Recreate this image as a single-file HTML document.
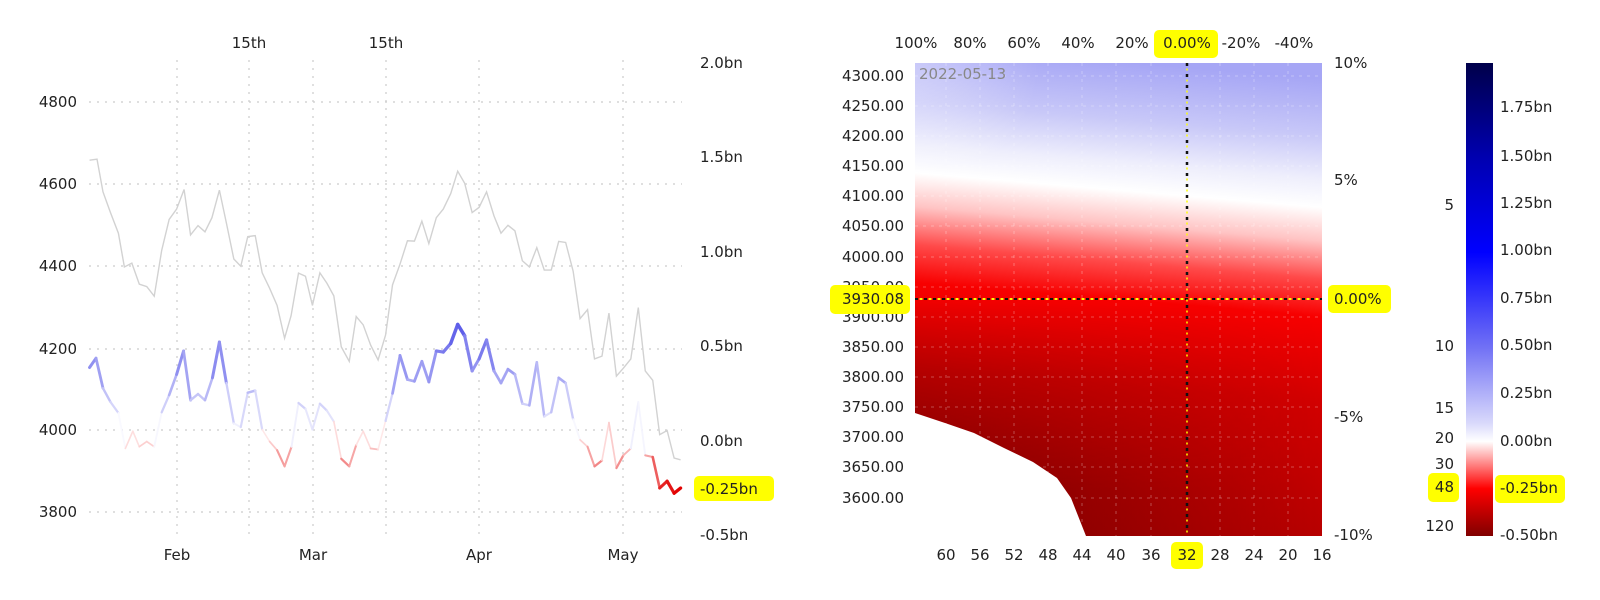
<!DOCTYPE html>
<html><head><meta charset="utf-8"><style>
html,body{margin:0;padding:0;background:#fff;}
svg{display:block;font-family:"DejaVu Sans","Liberation Sans",sans-serif;font-size:15px;}
</style></head><body>
<svg id="s" width="1600" height="600" viewBox="0 0 1600 600" xmlns="http://www.w3.org/2000/svg">
<defs>
<linearGradient id="hm" gradientUnits="userSpaceOnUse" x1="1135" y1="63" x2="1095" y2="536">
<stop offset="0" stop-color="#a6a6f5"/>
<stop offset="0.12" stop-color="#c8c8f8"/>
<stop offset="0.21" stop-color="#eeeefc"/>
<stop offset="0.27" stop-color="#ffffff"/>
<stop offset="0.34" stop-color="#ffc4c4"/>
<stop offset="0.42" stop-color="#ff4a4a"/>
<stop offset="0.5" stop-color="#f80000"/>
<stop offset="0.68" stop-color="#d20000"/>
<stop offset="1" stop-color="#b40000"/>
</linearGradient>
<radialGradient id="hmr" gradientUnits="userSpaceOnUse" cx="900" cy="60" r="140">
<stop offset="0" stop-color="#ffffff" stop-opacity="0.35"/>
<stop offset="1" stop-color="#ffffff" stop-opacity="0"/>
</radialGradient>
<linearGradient id="hm2" gradientUnits="userSpaceOnUse" x1="915" y1="0" x2="1322" y2="0">
<stop offset="0" stop-color="#500000" stop-opacity="0.6"/>
<stop offset="1" stop-color="#500000" stop-opacity="0.0"/>
</linearGradient>
<linearGradient id="hm3w" x1="0" y1="0" x2="0" y2="1">
<stop offset="0" stop-color="#000"/>
<stop offset="0.5" stop-color="#000"/>
<stop offset="0.9" stop-color="#fff"/>
<stop offset="1" stop-color="#fff"/>
</linearGradient>
<mask id="mk"><rect x="915" y="63" width="407" height="473" fill="url(#hm3w)"/></mask>
<linearGradient id="cb" x1="0" y1="0" x2="0" y2="1">
<stop offset="0" stop-color="#00004a"/>
<stop offset="0.2" stop-color="#0000b0"/>
<stop offset="0.4" stop-color="#0000ff"/>
<stop offset="0.6" stop-color="#7070f5"/>
<stop offset="0.76" stop-color="#d8d8fb"/>
<stop offset="0.8" stop-color="#ffffff"/>
<stop offset="0.9" stop-color="#ff0000"/>
<stop offset="1" stop-color="#800000"/>
</linearGradient>
</defs>

<!-- LEFT CHART -->
<g stroke="#ccc" stroke-width="1.2" stroke-dasharray="2,6">
<line x1="89" x2="682" y1="102" y2="102"/><line x1="89" x2="682" y1="184" y2="184"/>
<line x1="89" x2="682" y1="266" y2="266"/><line x1="89" x2="682" y1="349" y2="349"/>
<line x1="89" x2="682" y1="430" y2="430"/><line x1="89" x2="682" y1="512" y2="512"/>
<line x1="177" x2="177" y1="60" y2="535"/><line x1="249" x2="249" y1="60" y2="535"/>
<line x1="313" x2="313" y1="60" y2="535"/><line x1="386" x2="386" y1="60" y2="535"/>
<line x1="479" x2="479" y1="60" y2="535"/><line x1="623" x2="623" y1="60" y2="535"/>
</g>
<g text-anchor="end" fill="#222">
<text x="77" y="107">4800</text><text x="77" y="189">4600</text><text x="77" y="271">4400</text>
<text x="77" y="354">4200</text><text x="77" y="435">4000</text><text x="77" y="517">3800</text>
</g>
<g fill="#222">
<text x="700" y="68">2.0bn</text><text x="700" y="162">1.5bn</text><text x="700" y="257">1.0bn</text>
<text x="700" y="351">0.5bn</text><text x="700" y="446">0.0bn</text><text x="700" y="540">-0.5bn</text>
</g>
<rect x="694" y="476" width="80" height="25" rx="5" fill="#ffff00"/>
<text x="700" y="494" fill="#222">-0.25bn</text>
<g text-anchor="middle" fill="#222">
<text x="249" y="48">15th</text><text x="386" y="48">15th</text>
<text x="177" y="560">Feb</text><text x="313" y="560">Mar</text><text x="479" y="560">Apr</text><text x="623" y="560">May</text>
</g>
<g transform="translate(0,30) scale(0.4975,0.3444)">
<polyline fill="none" stroke="#d2d2d2" stroke-width="1.4" vector-effect="non-scaling-stroke" points="180,378 195,375 207,470 222,530 238,590 250,688 265,677 280,738 295,745 310,773 325,640 340,550 355,520 370,463 383,595 398,568 412,586 426,545 441,465 455,560 470,665 484,686 498,600 513,597 527,705 542,750 557,800 572,895 585,830 600,706 614,715 628,800 643,705 657,735 671,772 686,920 702,962 716,832 730,856 745,915 760,958 775,886 789,740 804,680 819,612 833,613 848,555 862,620 877,545 891,520 906,475 920,410 934,445 949,530 963,515 978,470 993,540 1007,590 1021,567 1035,583 1050,670 1064,688 1079,632 1094,697 1108,697 1123,614 1137,617 1152,700 1166,838 1181,812 1195,955 1210,947 1224,822 1239,1005 1253,982 1268,955 1283,806 1297,990 1312,1017 1326,1175 1341,1163 1355,1243 1368,1248"/>
<g id="col"></g>
</g>

<!-- RIGHT HEATMAP -->
<rect x="915" y="63" width="407" height="473" fill="url(#hm)"/>
<rect x="915" y="63" width="407" height="473" fill="url(#hmr)"/>
<rect x="915" y="63" width="407" height="473" fill="url(#hm2)" mask="url(#mk)"/>
<path d="M915,413 L945,423 L974,433 L1004,448 L1033,462 L1057,478 L1071,498 L1086,536 L915,536 Z" fill="#fff"/>
<g stroke="#fff" stroke-opacity="0.3" stroke-width="1" stroke-dasharray="3,5">
<line x1="915" x2="1322" y1="76" y2="76"/><line x1="915" x2="1322" y1="106" y2="106"/>
<line x1="915" x2="1322" y1="136" y2="136"/><line x1="915" x2="1322" y1="166" y2="166"/>
<line x1="915" x2="1322" y1="196" y2="196"/><line x1="915" x2="1322" y1="226" y2="226"/>
<line x1="915" x2="1322" y1="257" y2="257"/><line x1="915" x2="1322" y1="287" y2="287"/>
<line x1="915" x2="1322" y1="317" y2="317"/><line x1="915" x2="1322" y1="347" y2="347"/>
<line x1="915" x2="1322" y1="377" y2="377"/><line x1="915" x2="1322" y1="407" y2="407"/>
<line x1="915" x2="1322" y1="437" y2="437"/><line x1="915" x2="1322" y1="467" y2="467"/>
<line x1="915" x2="1322" y1="498" y2="498"/>
<line x1="946" x2="946" y1="63" y2="536"/><line x1="980" x2="980" y1="63" y2="536"/>
<line x1="1014" x2="1014" y1="63" y2="536"/><line x1="1048" x2="1048" y1="63" y2="536"/>
<line x1="1082" x2="1082" y1="63" y2="536"/><line x1="1116" x2="1116" y1="63" y2="536"/>
<line x1="1151" x2="1151" y1="63" y2="536"/><line x1="1220" x2="1220" y1="63" y2="536"/>
<line x1="1254" x2="1254" y1="63" y2="536"/><line x1="1288" x2="1288" y1="63" y2="536"/>
</g>
<line x1="915" x2="1322" y1="299" y2="299" stroke="#111" stroke-width="2" stroke-dasharray="3,6"/>
<line x1="915" x2="1322" y1="299" y2="299" stroke="#ff0" stroke-width="2" stroke-dasharray="3,6" stroke-dashoffset="4.5"/>
<line x1="1187" x2="1187" y1="63" y2="536" stroke="#111" stroke-width="2.5" stroke-dasharray="3,8"/>
<line x1="1187" x2="1187" y1="63" y2="536" stroke="#ff0" stroke-width="1.5" stroke-dasharray="2,9" stroke-dashoffset="5.5"/>
<text x="919" y="79" fill="#888">2022-05-13</text>
<g text-anchor="end" fill="#222">
<text x="904" y="81">4300.00</text><text x="904" y="111">4250.00</text><text x="904" y="141">4200.00</text>
<text x="904" y="171">4150.00</text><text x="904" y="201">4100.00</text><text x="904" y="231">4050.00</text>
<text x="904" y="262">4000.00</text><text x="904" y="292">3950.00</text><text x="904" y="322">3900.00</text>
<text x="904" y="352">3850.00</text><text x="904" y="382">3800.00</text><text x="904" y="412">3750.00</text>
<text x="904" y="442">3700.00</text><text x="904" y="472">3650.00</text><text x="904" y="503">3600.00</text>
</g>
<rect x="830" y="285" width="80" height="29" rx="5" fill="#ffff00"/>
<text x="904" y="304" text-anchor="end" fill="#222">3930.08</text>
<g text-anchor="middle" fill="#222">
<text x="916" y="48">100%</text><text x="970" y="48">80%</text><text x="1024" y="48">60%</text>
<text x="1078" y="48">40%</text><text x="1132" y="48">20%</text>
<text x="1241" y="48">-20%</text><text x="1294" y="48">-40%</text>
</g>
<rect x="1154" y="30" width="64" height="28" rx="5" fill="#ffff00"/>
<text x="1187" y="48" text-anchor="middle" fill="#222">0.00%</text>
<g fill="#222">
<text x="1334" y="68">10%</text><text x="1334" y="185">5%</text>
<text x="1334" y="422">-5%</text><text x="1334" y="540">-10%</text>
</g>
<rect x="1328" y="285" width="63" height="28" rx="5" fill="#ffff00"/>
<text x="1334" y="304" fill="#222">0.00%</text>
<g text-anchor="middle" fill="#222">
<text x="946" y="560">60</text><text x="980" y="560">56</text><text x="1014" y="560">52</text>
<text x="1048" y="560">48</text><text x="1082" y="560">44</text><text x="1116" y="560">40</text>
<text x="1151" y="560">36</text><text x="1220" y="560">28</text>
<text x="1254" y="560">24</text><text x="1288" y="560">20</text><text x="1322" y="560">16</text>
</g>
<rect x="1171" y="542" width="32" height="27" rx="5" fill="#ffff00"/>
<text x="1187" y="560" text-anchor="middle" fill="#222">32</text>

<!-- COLORBAR -->
<rect x="1466" y="63" width="27" height="473" fill="url(#cb)"/>
<g fill="#222">
<text x="1500" y="112">1.75bn</text><text x="1500" y="161">1.50bn</text><text x="1500" y="208">1.25bn</text>
<text x="1500" y="255">1.00bn</text><text x="1500" y="303">0.75bn</text><text x="1500" y="350">0.50bn</text>
<text x="1500" y="398">0.25bn</text><text x="1500" y="446">0.00bn</text><text x="1500" y="540">-0.50bn</text>
</g>
<rect x="1495" y="475" width="70" height="28" rx="5" fill="#ffff00"/>
<text x="1500" y="493" fill="#222">-0.25bn</text>
<g text-anchor="end" fill="#222">
<text x="1454" y="210">5</text><text x="1454" y="351">10</text><text x="1454" y="413">15</text>
<text x="1454" y="443">20</text><text x="1454" y="469">30</text><text x="1454" y="531">120</text>
</g>
<rect x="1428" y="473" width="31" height="29" rx="5" fill="#ffff00"/>
<text x="1454" y="492" text-anchor="end" fill="#222">48</text>
</svg>
<script>
var pts="180,980 193,953 207,1040 222,1080 238,1112 252,1215 267,1165 280,1210 295,1195 310,1210 325,1110 340,1060 355,1000 369,932 383,1075 398,1057 412,1075 427,1010 441,906 455,1025 470,1142 484,1153 498,1053 513,1047 527,1160 542,1195 557,1220 572,1267 586,1210 600,1083 614,1100 628,1160 643,1085 657,1105 671,1137 686,1245 702,1267 716,1205 730,1165 745,1215 760,1218 775,1135 789,1055 804,945 819,1015 833,1020 848,962 862,1022 877,932 891,935 906,910 920,855 934,888 949,990 963,955 978,900 993,990 1007,1025 1021,985 1035,1000 1050,1085 1064,1090 1079,965 1094,1122 1108,1110 1123,1010 1137,1025 1152,1130 1166,1190 1181,1210 1195,1267 1210,1250 1224,1140 1239,1272 1253,1235 1268,1215 1283,1080 1297,1235 1312,1240 1326,1330 1341,1310 1355,1345 1368,1330".split(" ").map(function(p){return p.split(",").map(Number);});
var g=document.getElementById("col"),h="";
function mix(a,b,t){return Math.round(a+(b-a)*t);}
for(var i=0;i<pts.length-1;i++){
 var a=pts[i],b=pts[i+1],y=(a[1]+b[1])/2,c,w,t;
 if(y<1170){t=Math.min(1,(1170-y)/(1170-855));c="rgb("+mix(252,85,t)+","+mix(252,85,t)+","+mix(255,232,t)+")";w=1.8+1.8*t;}
 else{t=Math.min(1,(y-1170)/(1340-1170));t=Math.pow(t,1.3);c="rgb("+mix(255,225,t)+","+mix(235,0,t)+","+mix(235,0,t)+")";w=1.5+1.8*t;}
 h+='<line x1="'+a[0]+'" y1="'+a[1]+'" x2="'+b[0]+'" y2="'+b[1]+'" stroke="'+c+'" stroke-width="'+w.toFixed(2)+'" stroke-linecap="round" vector-effect="non-scaling-stroke"/>';
}
g.innerHTML=h;
</script>
</body></html>
